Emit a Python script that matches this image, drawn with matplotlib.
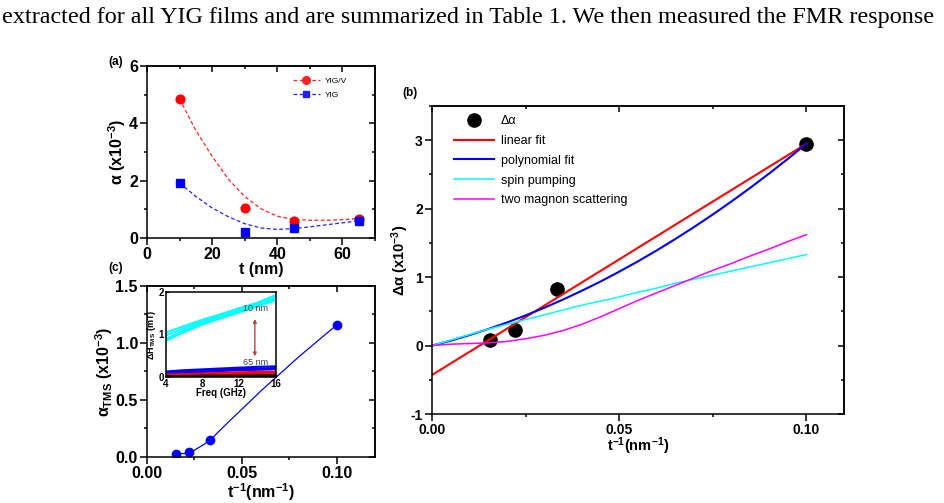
import numpy as np
import matplotlib
matplotlib.use('Agg')
import matplotlib.pyplot as plt
from matplotlib.ticker import MultipleLocator, FormatStrFormatter
from matplotlib.lines import Line2D

plt.rcParams['font.family'] = ['Liberation Sans', 'DejaVu Sans']
plt.rcParams['font.weight'] = 'bold'
plt.rcParams['axes.labelweight'] = 'bold'
plt.rcParams['mathtext.fontset'] = 'custom'
plt.rcParams['mathtext.rm'] = 'Liberation Sans:bold'
plt.rcParams['mathtext.it'] = 'Liberation Sans:bold'
plt.rcParams['mathtext.bf'] = 'Liberation Sans:bold'
plt.rcParams['axes.unicode_minus'] = False
plt.rcParams['axes.linewidth'] = 1.1

# (a) damping vs thickness
t_nm = [10, 30, 45, 65]
alpha_yigv = [4.85, 1.03, 0.58, 0.68]
alpha_yig = [1.92, 0.22, 0.35, 0.60]
fit_t = [10, 15, 20, 25, 30, 35, 40, 45, 50, 55, 60, 65]
fit_yigv = [4.85, 3.75, 2.85, 2.05, 1.45, 1.02, 0.76, 0.65, 0.62, 0.62, 0.64, 0.68]
fit_yig = [1.92, 1.45, 1.05, 0.74, 0.50, 0.35, 0.30, 0.33, 0.39, 0.46, 0.53, 0.60]

# (b) delta alpha vs 1/t
inv_t = [1/65, 1/45, 1/30, 1/10]
d_alpha = [0.08, 0.23, 0.82, 2.94]
lin_x = [0.0, 0.1]
lin_y = [-0.43, 2.95]
curve_x = [0.0, 0.005, 0.01, 0.015, 0.02, 0.025, 0.03, 0.035, 0.04, 0.045, 0.05,
           0.055, 0.06, 0.065, 0.07, 0.075, 0.08, 0.085, 0.09, 0.095, 0.10]
poly_y = [0.0, 0.072, 0.153, 0.241, 0.337, 0.441, 0.553, 0.673, 0.801, 0.936, 1.08,
          1.231, 1.39, 1.558, 1.733, 1.916, 2.107, 2.306, 2.513, 2.727, 2.95]
sp_y = [0.0, 0.08, 0.16, 0.24, 0.31, 0.38, 0.45, 0.52, 0.59, 0.65, 0.71,
        0.78, 0.84, 0.91, 0.97, 1.03, 1.09, 1.15, 1.21, 1.27, 1.33]
tms_y = [0.0, 0.02, 0.03, 0.04, 0.06, 0.10, 0.15, 0.22, 0.31, 0.42, 0.54,
         0.66, 0.77, 0.88, 0.99, 1.10, 1.20, 1.31, 1.41, 1.52, 1.62]

# (c) alpha_TMS vs 1/t
alpha_tms = [0.03, 0.04, 0.15, 1.16]
tms_line_x = [1/65, 0.02, 0.025, 0.03, 1/30, 0.04, 0.05, 0.06, 0.07, 0.08, 0.09, 0.10]
tms_line_y = [0.03, 0.03, 0.06, 0.11, 0.15, 0.26, 0.42, 0.58, 0.73, 0.88, 1.02, 1.16]

# inset: linewidth from two magnon scattering vs frequency
freq = [4, 6, 8, 10, 12, 14, 16]
dh_cyan = [[1.05, 1.20, 1.35, 1.48, 1.62, 1.75, 1.93],
           [0.98, 1.15, 1.31, 1.44, 1.58, 1.71, 1.88],
           [0.90, 1.10, 1.27, 1.41, 1.55, 1.68, 1.84],
           [0.85, 1.06, 1.24, 1.38, 1.52, 1.66, 1.81]]
dh_blue = [[0.13, 0.16, 0.18, 0.20, 0.22, 0.24, 0.25],
           [0.10, 0.13, 0.15, 0.17, 0.19, 0.20, 0.21],
           [0.07, 0.10, 0.12, 0.14, 0.16, 0.17, 0.18]]
dh_red = [[0.06, 0.07, 0.08, 0.10, 0.11, 0.12, 0.12],
          [0.03, 0.04, 0.05, 0.06, 0.07, 0.08, 0.08]]
dh_black = [[0.02, 0.02, 0.03, 0.03, 0.03, 0.04, 0.04],
            [0.00, 0.00, 0.01, 0.01, 0.01, 0.01, 0.01]]


def style(ax, xmaj, xmin, ymaj, ymin, size, xfmt=None, yfmt=None):
    for axis, maj, mn in ((ax.xaxis, xmaj, xmin), (ax.yaxis, ymaj, ymin)):
        axis.set_major_locator(MultipleLocator(maj))
        axis.set_minor_locator(MultipleLocator(mn))
    if xfmt:
        ax.xaxis.set_major_formatter(FormatStrFormatter(xfmt))
    if yfmt:
        ax.yaxis.set_major_formatter(FormatStrFormatter(yfmt))
    ax.tick_params(which='both', direction='out', width=1.1)
    ax.tick_params(which='major', length=5, labelsize=size, pad=1.5)
    ax.tick_params(which='minor', length=2.5)
    sx = ax.secondary_xaxis('top')
    sx.xaxis.set_major_locator(MultipleLocator(xmaj))
    sx.xaxis.set_minor_locator(MultipleLocator(xmin))
    sx.tick_params(which='both', direction='in', labeltop=False, width=1.1)
    sx.tick_params(which='major', length=4)
    sx.tick_params(which='minor', length=2.4)
    sy = ax.secondary_yaxis('right')
    sy.yaxis.set_major_locator(MultipleLocator(ymaj))
    sy.yaxis.set_minor_locator(MultipleLocator(ymin))
    sy.tick_params(which='both', direction='in', labelright=False, width=1.1)
    sy.tick_params(which='major', length=4)
    sy.tick_params(which='minor', length=2.4)


fig = plt.figure(figsize=(9.44, 5.03), dpi=100)
fig.text(0.002, 0.966,
         'extracted for all YIG films and are summarized in Table 1. We then measured the FMR response',
         family='Liberation Serif', fontsize=17.4, weight='normal', va='center')

# ---- (a)
ax_a = fig.add_axes([0.1557, 0.5268, 0.2415, 0.342])
ax_a.plot(fit_t, fit_yigv, color='#ff2020', lw=0.9, dashes=(3, 2))
ax_a.plot(fit_t, fit_yig, color='#2020ff', lw=0.9, dashes=(3, 2))
ax_a.plot(t_nm, alpha_yigv, 'o', color='#ff0000', ms=6.3)
ax_a.plot(t_nm, alpha_yig, 's', color='#0000ff', ms=5.2)
ax_a.set_xlim(0, 70)
ax_a.set_ylim(0, 6)
style(ax_a, 20, 10, 2, 1, 11.5)
ax_a.set_xlabel('t (nm)', fontsize=11.5, labelpad=0)
ax_a.set_ylabel(r'α (x10$^{-3}$)', fontsize=11.5, labelpad=1)
h_a = [Line2D([], [], color='#ff2020', lw=0.9, dashes=(3, 2), marker='o', ms=5.5),
       Line2D([], [], color='#2020ff', lw=0.9, dashes=(3, 2), marker='s', ms=5)]
ax_a.legend(h_a, ['YIG/V', 'YIG'], loc='upper left', bbox_to_anchor=(0.64, 0.935),
            frameon=False, borderpad=0, borderaxespad=0,
            handlelength=3.2, handletextpad=0.6, labelspacing=0.7,
            prop={'weight': 'normal', 'size': 6})
fig.text(0.115, 0.877, '(a)', fontsize=8.5, ha='left', va='center')

# ---- (c)
ax_c = fig.add_axes([0.1557, 0.0915, 0.2415, 0.340])
ax_c.plot(tms_line_x, tms_line_y, color='#0000ff', lw=0.9)
ax_c.plot(inv_t, alpha_tms, 'o', color='#0000ff', ms=6)
ax_c.set_xlim(0, 0.12)
ax_c.set_ylim(0, 1.5)
style(ax_c, 0.05, 0.025, 0.5, 0.25, 11.5, xfmt='%.2f', yfmt='%.1f')
ax_c.set_xlabel(r't$^{-1}$(nm$^{-1}$)', fontsize=11.5, labelpad=0)
ax_c.set_ylabel(r'α$_{\rm TMS}$ (x10$^{-3}$)', fontsize=11.5, labelpad=0)
fig.text(0.115, 0.467, '(c)', fontsize=8.5, ha='left', va='center')

# inset
ax_i = fig.add_axes([0.1758, 0.2505, 0.1165, 0.169])
for ys in dh_cyan:
    ax_i.plot(freq, ys, color='#00ffff', lw=1.4)
for ys in dh_blue:
    ax_i.plot(freq, ys, color='#0000ff', lw=1.5)
for ys in dh_red:
    ax_i.plot(freq, ys, color='#ff0000', lw=1.5)
for ys in dh_black:
    ax_i.plot(freq, ys, color='#000000', lw=1.5)
ax_i.set_xlim(4, 16)
ax_i.set_ylim(0, 2)
ax_i.xaxis.set_major_locator(MultipleLocator(4))
ax_i.yaxis.set_major_locator(MultipleLocator(1))
ax_i.tick_params(direction='in', length=2.5, width=0.8, labelsize=7)
ax_i.tick_params(axis='x', pad=1.5)
ax_i.tick_params(axis='y', pad=1.5)
ax_i.set_xlabel('Freq (GHz)', fontsize=7, labelpad=-0.5)
ax_i.set_ylabel(r'ΔH$_{\rm TMS}$ (mT)', fontsize=6.5, labelpad=0.5)
ax_i.annotate('', xy=(13.7, 0.42), xytext=(13.7, 1.43),
              arrowprops=dict(arrowstyle='<|-|>', color='#b04848', lw=1,
                              mutation_scale=5))
ax_i.text(13.8, 1.5, '10 nm', fontsize=6.5, weight='normal', color='#404040',
          ha='center', va='bottom')
ax_i.text(13.8, 0.24, '65 nm', fontsize=6.5, weight='normal', color='#404040',
          ha='center', va='bottom')

# ---- (b)
ax_b = fig.add_axes([0.4576, 0.1769, 0.4364, 0.6123])
ax_b.plot(inv_t, d_alpha, 'o', color='black', ms=9.5, label='Δα')
ax_b.plot(lin_x, lin_y, color='#ff0000', lw=1.5, label='linear fit')
ax_b.plot(curve_x, poly_y, color='#0000ff', lw=1.5, label='polynomial fit')
ax_b.plot(curve_x, sp_y, color='#00ffff', lw=1.1, label='spin pumping')
ax_b.plot(curve_x, tms_y, color='#ff00ff', lw=1.1, label='two magnon scattering')
ax_b.set_xlim(0, 0.11)
ax_b.set_ylim(-1, 3.5)
style(ax_b, 0.05, 0.025, 1, 0.5, 10, xfmt='%.2f', yfmt='%d')
ax_b.set_xlabel(r't$^{-1}$(nm$^{-1}$)', fontsize=10.5, labelpad=-1)
ax_b.set_ylabel(r'Δα (x10$^{-3}$)', fontsize=10.5, labelpad=0)
ax_b.legend(loc='upper left', bbox_to_anchor=(0.053, 0.97), frameon=False,
            borderpad=0, borderaxespad=0, handlelength=3.2, handletextpad=0.55,
            labelspacing=0.62, prop={'weight': 'normal', 'size': 9})
fig.text(0.426, 0.815, '(b)', fontsize=8.5, ha='left', va='center')

fig.savefig('out.png', dpi=100)
